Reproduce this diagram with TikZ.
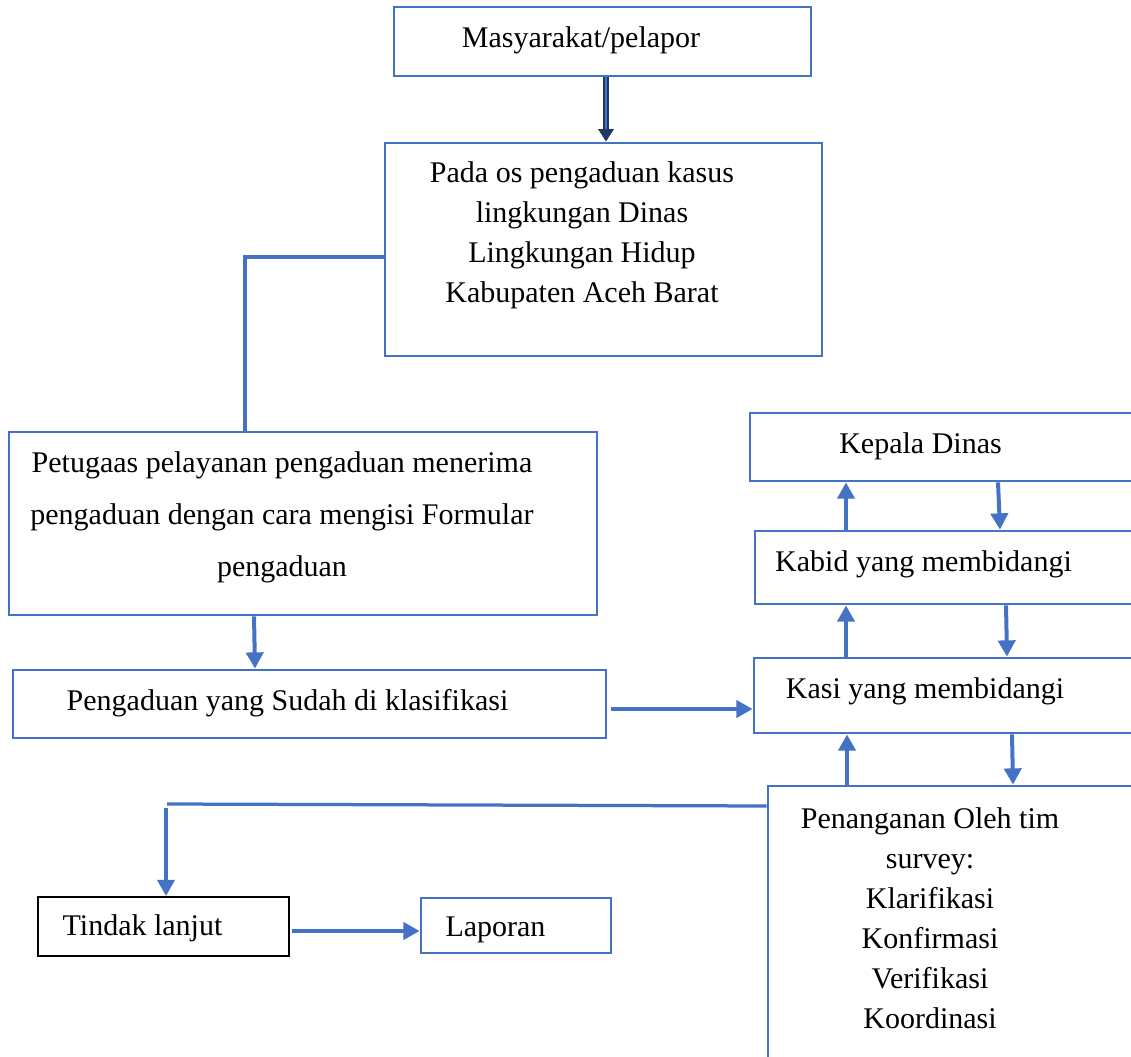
\documentclass[tikz,border=0pt]{standalone}
\usepackage{fontspec}
\setmainfont{Liberation Serif}
\usepackage{tikz}
\usetikzlibrary{arrows.meta}
\definecolor{boxblue}{HTML}{4472C4}
\definecolor{navyblue}{HTML}{1F3864}
\tikzset{
	box/.style 2 args={draw=boxblue,line width=1.1pt,minimum width=#1*0.4pt,minimum height=#2*0.4pt,inner sep=0pt},
	bbox/.style 2 args={draw=black,line width=0.8pt,minimum width=#1*0.4pt,minimum height=#2*0.4pt,inner sep=0pt},
	txt/.style={font=\fontsize{12}{16}\selectfont,align=center,inner sep=0pt},
	arr/.style={draw=boxblue,line width=1.6pt,-{Triangle[length=6.5pt,width=6.8pt]}},
	conn/.style={draw=boxblue,line width=1.3pt}
}
\begin{document}
\begin{tikzpicture}[x=0.4pt,y=-0.4pt]
						\useasboundingbox (0,0) rectangle (1131,1057);
						\clip (0,0) rectangle (1131,1057);

						\node [box={417}{69}] (lapor) at (602.5,41.5) {};
						\node [box={437}{213}] (pos) at (603.5,249.5) {};
						\node [box={588}{183}] (petugas) at (303,523.5) {};
						\node [box={593}{68}] (klas) at (309.5,704) {};
						\node [box={450}{68}] (kadis) at (975,447) {};
						\node [box={445}{73}] (kabid) at (977.5,567.5) {};
						\node [box={446}{75}] (kasi) at (977,695.5) {};
						\node [box={432}{314}] (tim) at (984,943) {};
						\node [bbox={251}{59}] (tindak) at (163.5,926.5) {};
						\node [box={190}{55}] (laporan) at (516,925.5) {};

						\node [txt] (tlapor) at (581,40) {Masyarakat/pelapor};
						\node [txt] (tpos) at (582,235) {Pada os pengaduan kasus\\lingkungan Dinas\\Lingkungan Hidup\\Kabupaten Aceh Barat};
						\node [txt,font=\fontsize{12}{20.8}\selectfont] (tpetugas) at (282,517) {Petugaas pelayanan pengaduan menerima\\pengaduan dengan cara mengisi Formular\\pengaduan};
						\node [txt] (tklas) at (287.5,703) {Pengaduan yang Sudah di klasifikasi};
						\node [txt] (tkadis) at (920.5,446) {Kepala Dinas};
						\node [txt] (tkabid) at (923.5,564) {Kabid yang membidangi};
						\node [txt] (tkasi) at (925,691) {Kasi yang membidangi};
						\node [txt] (ttim) at (930,918) {Penanganan Oleh tim\\survey:\\Klarifikasi\\Konfirmasi\\Verifikasi\\Koordinasi};
						\node [txt] (ttindak) at (142.5,928) {Tindak lanjut};
						\node [txt] (tlaporan) at (495.5,930) {Laporan};

						\draw [draw=navyblue,line width=2.4pt,-{Triangle[length=5pt,width=6pt]}] (lapor.south -| 606,0) -- (pos.north -| 606,0);
						\draw [draw=boxblue,line width=0.8pt,shorten >=5pt] (lapor.south -| 606,0) -- (pos.north -| 606,0);
						\draw [conn] (pos.west |- 0,257) -| (petugas.north -| 245,0);
						\draw [arr] (petugas.south -| 254,0) -- (klas.north -| 255,0);
						\draw [arr] ([xshift=1.6pt]klas.east |- 0,709) -- (kasi.west |- 0,709);
						\draw [arr] (kabid.north -| 846,0) -- (kadis.south -| 846,0);
						\draw [arr] (kadis.south -| 998,0) -- (kabid.north -| 1000,0);
						\draw [arr] (kasi.north -| 846,0) -- (kabid.south -| 846,0);
						\draw [arr] (kabid.south -| 1006,0) -- (kasi.north -| 1007,0);
						\draw [arr] (tim.north -| 847,0) -- (kasi.south -| 847,0);
						\draw [arr] (kasi.south -| 1012,0) -- (tim.north -| 1013,0);
						\draw [conn] (tim.west |- 0,806) -- (167,804);
						\draw [arr] (166,808) -- (tindak.north -| 166,0);
						\draw [arr] ([xshift=0.8pt]tindak.east |- 0,931) -- (laporan.west |- 0,931);
					\end{tikzpicture}
\end{document}
